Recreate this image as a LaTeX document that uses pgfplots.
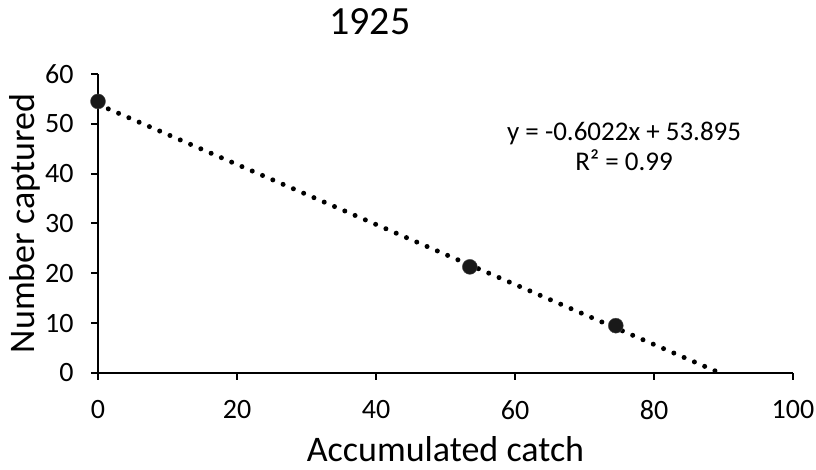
\documentclass[border=0pt]{standalone}
\usepackage{fontspec}
\setmainfont{Carlito}
\usepackage{pgfplots}
\pgfplotsset{compat=1.18}
\begin{document}
\begin{tikzpicture}[x=1pt,y=1pt]
\path[use as bounding box] (0,0) rectangle (816,470);
\begin{axis}[
  at={(98pt,97pt)}, anchor=south west,
  scale only axis, width=695pt, height=299pt,
  xmin=0, xmax=100, ymin=0, ymax=60,
  xtick={0,20,...,100}, ytick={0,10,...,60},
  axis x line*=bottom, axis y line*=left,
  axis line style={-, line width=2pt, black},
  tick align=outside, major tick length=7pt,
  tick style={line width=2pt, black},
  /pgf/number format/assume math mode=true,
  ticklabel style={font=\fontsize{28}{32}\selectfont},
  xticklabel style={yshift=-17pt},
  yticklabel style={xshift=-14pt},
  xlabel={Accumulated catch}, ylabel={Number captured},
  label style={font=\fontsize{36}{40}\selectfont},
  xlabel style={yshift=-10pt},
  ylabel style={yshift=-2pt},
  title={1925},
  title style={font=\fontsize{40}{44}\selectfont, at={(0.391,1)}, anchor=base, yshift=33pt},
  clip=false,
]
\addplot[black, line width=5pt, line cap=round, dash pattern=on 0pt off 11.2pt] coordinates {(0,53.895) (89.5,0)};
\addplot[only marks, mark=*, mark size=7.5pt, mark options={fill=black!90, draw=black!70}] coordinates {(0,54.5) (53.5,21.3) (74.5,9.5)};
\node[align=center, font=\fontsize{27}{30}\selectfont] at (axis cs:75.7,45.4) {y = -0.6022x + 53.895\\R² = 0.99};
\end{axis}
\end{tikzpicture}
\end{document}
